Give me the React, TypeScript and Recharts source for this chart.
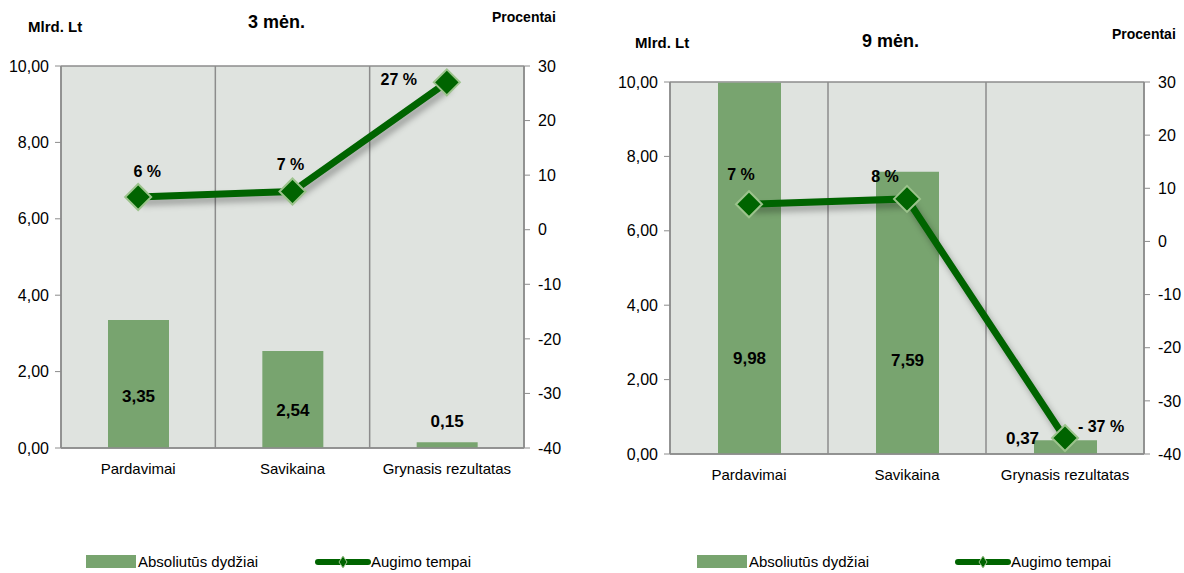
import React from "react";
import { ComposedChart, Bar, Line, XAxis, YAxis, CartesianGrid, LabelList } from "recharts";

const categories = ["Pardavimai", "Savikaina", "Grynasis rezultatas"];
const absolute3 = [3.35, 2.54, 0.15];
const growth3 = [6, 7, 27];
const absolute9 = [9.98, 7.59, 0.37];
const growth9 = [7, 8, -37];
const leftTicks = [0, 2, 4, 6, 8, 10];
const rightTicks = [-40, -30, -20, -10, 0, 10, 20, 30];

const FONT = "'Liberation Sans Narrow', 'Arial Narrow', 'Liberation Sans', Arial, sans-serif";
const BAR = "#78a46f";
const LINE = "#006400";
const GRID = "#8c8c8c";

const fmtNum = (v: number) => v.toFixed(2).replace(".", ",");
const fmtPct = (v: number) => (v < 0 ? `- ${Math.abs(v)} %` : `${v} %`);

function Diamond(props: any) {
  const { cx, cy } = props;
  if (cx == null || cy == null) return null;
  const r = 13;
  return (
    <polygon
      points={`${cx},${cy - r} ${cx + r},${cy} ${cx},${cy + r} ${cx - r},${cy}`}
      fill={LINE}
      stroke="#9cc38c"
      strokeWidth={2}
    />
  );
}

interface PanelProps {
  left: number;
  width: number;
  margin: { top: number; bottom: number };
  leftAxisW: number;
  rightAxisW: number;
  barSize: number;
  title: string;
  titleX: number;
  titleY: number;
  unitX: number;
  unitY: number;
  pctX: number;
  pctY: number;
  absolute: number[];
  growth: number[];
  barLabelShift: Array<[number, number]>;
  lineLabelShift: Array<[number, number]>;
  legendX: [number, number];
}

function Panel(p: PanelProps) {
  const data = categories.map((c, i) => ({ name: c, abs: p.absolute[i], growth: p.growth[i] }));
  const n = categories.length;
  return (
    <div style={{ position: "absolute", left: p.left, top: 0, width: p.width, height: 573 }}>
      <div style={{ position: "absolute", left: p.unitX, top: p.unitY, fontFamily: FONT, fontWeight: "bold", fontSize: 15, color: "#000" }}>
        Mlrd. Lt
      </div>
      <div style={{ position: "absolute", left: p.titleX, top: p.titleY, fontFamily: FONT, fontWeight: "bold", fontSize: 18, color: "#000" }}>
        {p.title}
      </div>
      <div style={{ position: "absolute", left: p.pctX, top: p.pctY, fontFamily: FONT, fontWeight: "bold", fontSize: 14, color: "#000" }}>
        Procentai
      </div>
      <ComposedChart
        width={p.width}
        height={573}
        data={data}
        margin={{ top: p.margin.top, right: 0, bottom: p.margin.bottom, left: 0 }}
        style={{ position: "absolute", left: 0, top: 0 }}
      >
        <CartesianGrid
          fill="#dfe3df"
          fillOpacity={1}
          stroke={GRID}
          strokeWidth={1.5}
          verticalCoordinatesGenerator={({ offset }: any) =>
            Array.from({ length: n + 1 }, (_, i) => offset.left + (i * offset.width) / n)
          }
        />
        <XAxis
          dataKey="name"
          axisLine={{ stroke: GRID, strokeWidth: 1.5 }}
          tickLine={false}
          tickMargin={9}
          height={30}
          tick={{ fontFamily: FONT, fontSize: 15, fill: "#000" }}
        />
        <YAxis
          yAxisId="left"
          domain={[0, 10]}
          ticks={leftTicks}
          interval={0}
          width={p.leftAxisW}
          tickFormatter={fmtNum}
          axisLine={{ stroke: GRID, strokeWidth: 1.5 }}
          tickLine={{ stroke: GRID }}
          tickMargin={6}
          tick={{ fontFamily: FONT, fontSize: 16, fill: "#000" }}
        />
        <YAxis
          yAxisId="right"
          orientation="right"
          domain={[-40, 30]}
          ticks={rightTicks}
          interval={0}
          width={p.rightAxisW}
          axisLine={{ stroke: GRID, strokeWidth: 1.5 }}
          tickLine={{ stroke: GRID }}
          tickMargin={8}
          tick={{ fontFamily: FONT, fontSize: 16, fill: "#000" }}
        />
        <Bar yAxisId="left" dataKey="abs" fill={BAR} barSize={p.barSize} isAnimationActive={false}>
          <LabelList
            dataKey="abs"
            content={(lp: any) => {
              const [dx, dy] = p.barLabelShift[lp.index] || [0, 0];
              return (
                <text
                  x={lp.x + lp.width / 2 + dx}
                  y={lp.y + lp.height / 2 + dy}
                  textAnchor="middle"
                  dominantBaseline="central"
                  fontFamily={FONT}
                  fontWeight="bold"
                  fontSize={17}
                  fill="#000"
                >
                  {fmtNum(lp.value)}
                </text>
              );
            }}
          />
        </Bar>
        <Line
          yAxisId="right"
          dataKey="growth"
          stroke={LINE}
          strokeWidth={7}
          dot={<Diamond />}
          activeDot={false}
          isAnimationActive={false}
        >
          <LabelList
            dataKey="growth"
            content={(lp: any) => {
              const [dx, dy] = p.lineLabelShift[lp.index] || [0, 0];
              return (
                <text
                  x={lp.x + dx}
                  y={lp.y + dy}
                  textAnchor="middle"
                  dominantBaseline="central"
                  fontFamily={FONT}
                  fontWeight="bold"
                  fontSize={16}
                  fill="#000"
                >
                  {fmtPct(lp.value)}
                </text>
              );
            }}
          />
        </Line>
      </ComposedChart>
      <div style={{ position: "absolute", left: p.legendX[0], top: 553, display: "flex", alignItems: "center", fontFamily: FONT, fontSize: 15 }}>
        <div style={{ width: 50, height: 13, background: BAR, marginRight: 2 }} />
        <span>Absoliutūs dydžiai</span>
      </div>
      <div style={{ position: "absolute", left: p.legendX[1], top: 553, display: "flex", alignItems: "center", fontFamily: FONT, fontSize: 15 }}>
        <svg width={56} height={14}>
          <line x1={3} y1={7} x2={53} y2={7} stroke={LINE} strokeWidth={6} strokeLinecap="round" />
          <polygon points="28,1 32,7 28,13 24,7" fill={LINE} stroke="#9cc38c" strokeWidth={1} />
        </svg>
        <span>Augimo tempai</span>
      </div>
    </div>
  );
}

export default function App() {
  return (
    <div style={{ position: "absolute", left: 0, top: 0, width: 1184, height: 573, background: "#fff", overflow: "hidden" }}>
      <style>{`.recharts-line { filter: drop-shadow(3px 5px 3px rgba(0,0,0,0.3)); }`}</style>
      <Panel
        left={0}
        width={590}
        margin={{ top: 66, bottom: 95 }}
        leftAxisW={61}
        rightAxisW={66}
        barSize={61}
        title="3 mėn."
        titleX={248}
        titleY={12}
        unitX={28}
        unitY={18}
        pctX={492}
        pctY={9}
        absolute={absolute3}
        growth={growth3}
        barLabelShift={[[0, 12], [0, 11], [0, -24]]}
        lineLabelShift={[[9, -25], [-2, -27], [-48, -3]]}
        legendX={[86, 315]}
      />
      <Panel
        left={600}
        width={584}
        margin={{ top: 82, bottom: 89 }}
        leftAxisW={70}
        rightAxisW={40}
        barSize={63}
        title="9 mėn."
        titleX={262}
        titleY={31}
        unitX={35}
        unitY={34}
        pctX={512}
        pctY={26}
        absolute={absolute9}
        growth={growth9}
        barLabelShift={[[0, 90], [0, 48], [-43, -9]]}
        lineLabelShift={[[-8, -30], [-22, -22], [36, -12]]}
        legendX={[97, 355]}
      />
    </div>
  );
}
